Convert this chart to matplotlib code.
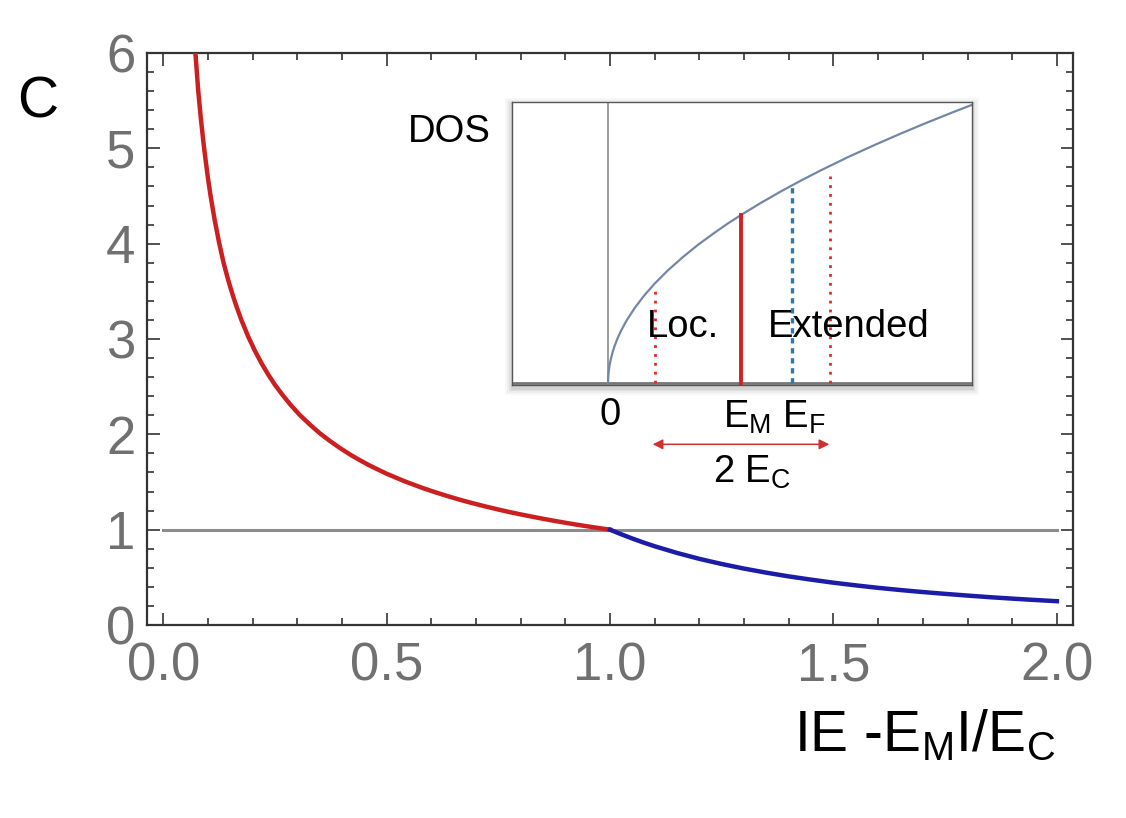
import numpy as np
import matplotlib
matplotlib.use("Agg")
import matplotlib.pyplot as plt
from matplotlib.patches import Rectangle, FancyArrowPatch

plt.rcParams['font.family'] = ['Liberation Sans', 'DejaVu Sans']
plt.rcParams['mathtext.fontset'] = 'custom'
plt.rcParams['mathtext.rm'] = 'Liberation Sans'
plt.rcParams['mathtext.it'] = 'Liberation Sans:italic'

# main curve (localized side, red)
x_loc = [0.072, 0.078, 0.084, 0.09, 0.095, 0.1, 0.106, 0.115, 0.125, 0.135,
         0.145, 0.155, 0.163, 0.175, 0.19, 0.205, 0.22, 0.235, 0.25, 0.267,
         0.284, 0.305, 0.33, 0.35, 0.373, 0.395, 0.42, 0.44, 0.46, 0.48,
         0.5, 0.54, 0.58, 0.61, 0.64, 0.67, 0.694, 0.72, 0.75, 0.775,
         0.8, 0.825, 0.85, 0.875, 0.9, 0.925, 0.95, 0.975, 1.0]
c_loc = [6.0, 5.62, 5.32, 5.06, 4.87, 4.69, 4.50, 4.25, 4.01, 3.80,
         3.625, 3.468, 3.354, 3.198, 3.027, 2.878, 2.745, 2.627, 2.52, 2.413,
         2.315, 2.206, 2.095, 2.013, 1.931, 1.858, 1.783, 1.729, 1.678, 1.632,
         1.587, 1.508, 1.438, 1.391, 1.347, 1.306, 1.276, 1.245, 1.2115, 1.185,
         1.1605, 1.137, 1.1145, 1.093, 1.0728, 1.053, 1.0348, 1.017, 1.0]
# extended side, blue
x_ext = [1.0, 1.025, 1.05, 1.075, 1.1, 1.15, 1.2, 1.25, 1.3, 1.35, 1.4, 1.45,
         1.5, 1.55, 1.6, 1.65, 1.7, 1.75, 1.8, 1.85, 1.9, 1.95, 2.0]
c_ext = [1.0, 0.952, 0.907, 0.865, 0.826, 0.756, 0.694, 0.64, 0.592, 0.549,
         0.51, 0.476, 0.444, 0.416, 0.39, 0.367, 0.346, 0.327, 0.309, 0.292,
         0.277, 0.263, 0.25]
ref_level = 1.0

# inset: density of states
e_dos = [0.0, 0.002, 0.006, 0.012, 0.02, 0.035, 0.05, 0.075, 0.1, 0.14, 0.2,
         0.27, 0.35, 0.45, 0.56, 0.68, 0.8, 0.9, 1.0, 1.15, 1.3, 1.45, 1.6,
         1.8, 2.0, 2.2, 2.4, 2.6, 2.74]
dos = [0.0, 0.045, 0.077, 0.11, 0.141, 0.187, 0.224, 0.274, 0.316, 0.374, 0.447,
       0.52, 0.592, 0.671, 0.748, 0.825, 0.894, 0.949, 1.0, 1.072, 1.14, 1.204, 1.265,
       1.342, 1.414, 1.483, 1.549, 1.612, 1.655]
e_marks = [0.356, 1.0, 1.38, 1.67]
h_marks = [0.55, 1.0, 1.19, 1.23]

W, H = 1126, 818
fig = plt.figure(figsize=(W / 100, H / 100), dpi=100)

def fx(px):
    return px / W

def fy(py):
    return 1 - py / H

ax = fig.add_axes([0.1303, 0.2359, 0.8226, 0.6993])
ax.plot([0, 2], [ref_level, ref_level], color='#8c8c8c', lw=2.2, zorder=2)
ax.plot(x_loc, c_loc, color='#cc1f1f', lw=3.2, zorder=3, solid_joinstyle='round')
ax.plot(x_ext, c_ext, color='#1c1ca8', lw=3.2, zorder=3, solid_joinstyle='round')
ax.set_xlim(-0.037, 2.036)
ax.set_ylim(0, 5.95)

ax.set_xticks([0, 0.5, 1.0, 1.5, 2.0])
ax.set_xticklabels(['0.0', '0.5', '1.0', '1.5', '2.0'])
ax.set_xticks(np.arange(0, 2.01, 0.1), minor=True)
ax.set_yticks([0, 1, 2, 3, 4, 5, 6])
ax.set_yticks(np.arange(0, 6.01, 0.2), minor=True)
ax.tick_params(which='both', direction='in', top=True, right=True,
               color='#333333', width=1.2)
ax.tick_params(which='major', length=9)
ax.tick_params(which='minor', length=5)
ax.tick_params(axis='x', which='major', labelsize=38, labelcolor='#707070', pad=12)
ax.tick_params(axis='y', which='major', labelsize=38, labelcolor='#707070', pad=8)
for s in ax.spines.values():
    s.set_color('#333333')
    s.set_linewidth(1.6)

fig.text(fx(17), fy(117), 'C', fontsize=41, va='baseline', ha='left')
fig.text(fx(1055), fy(751), 'IE -E$_\\mathrm{M}$I/E$_\\mathrm{C}$', fontsize=41,
         va='baseline', ha='right')

# inset with soft shadow
il, ib, iw, ih = 0.455, 0.5293, 0.4085, 0.3464
for k, a in zip([7, 5, 3, 1.5], [0.03, 0.04, 0.05, 0.06]):
    fig.patches.append(Rectangle((il - k / W, ib - (k + 3) / H), iw + 2 * k / W,
                                 ih + 2 * k / H, transform=fig.transFigure,
                                 facecolor='black', alpha=a, edgecolor='none',
                                 zorder=4))
axi = fig.add_axes([il, ib, iw, ih], zorder=5)
axi.set_facecolor('white')
axi.set_xlim(-0.72, 2.74)
axi.set_ylim(-0.01, 1.673)
axi.set_xticks([])
axi.set_yticks([])
for s in axi.spines.values():
    s.set_color('#555555')
    s.set_linewidth(1.0)
axi.axhline(0, color='#777777', lw=2)
axi.axvline(0, color='#8a8a8a', lw=1.2)
axi.plot(e_dos, dos, color='#7486a8', lw=1.6, solid_joinstyle='round')
axi.plot([e_marks[0]] * 2, [0, h_marks[0]], color='#e02828', lw=2, ls=(0, (1, 2.2)))
axi.plot([e_marks[1]] * 2, [0, h_marks[1]], color='#d42020', lw=2.8)
axi.plot([e_marks[2]] * 2, [0, h_marks[2]], color='#2f78aa', lw=2.4, ls=(0, (1.6, 1.4)))
axi.plot([e_marks[3]] * 2, [0, h_marks[3]], color='#e02828', lw=2, ls=(0, (1, 2.2)))

txt = dict(fontsize=27.5, va='baseline', zorder=6)
fig.text(fx(408), fy(141.7), 'DOS', ha='left', **txt)
fig.text(fx(646.7), fy(336.7), 'Loc.', ha='left', **txt)
fig.text(fx(768), fy(336.7), 'Extended', ha='left', **txt)
fig.text(fx(610), fy(425), '0', ha='center', **txt)
fig.text(fx(723), fy(427.7), 'E$_\\mathrm{M}$ E$_\\mathrm{F}$', ha='left', **txt)
fig.text(fx(713), fy(483), '2 E$_\\mathrm{C}$', ha='left', **txt)
fig.patches.append(FancyArrowPatch(
    (fx(652.7), fy(444.3)), (fx(829.3), fy(444.3)), transform=fig.transFigure,
    arrowstyle='<|-|>,head_length=6,head_width=3', color='#d03030', lw=1.1,
    shrinkA=0, shrinkB=0, zorder=6))

fig.savefig('out.png', dpi=100)
